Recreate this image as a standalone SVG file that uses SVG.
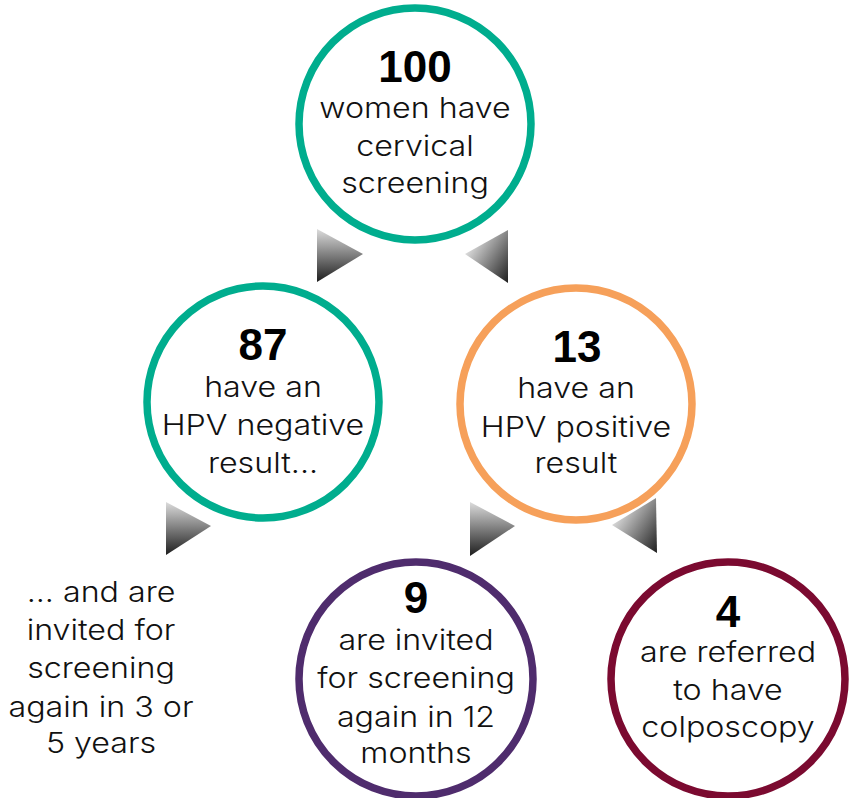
<svg xmlns="http://www.w3.org/2000/svg" width="851" height="798" viewBox="0 0 851 798">
<defs>
<linearGradient id="gR" x1="0" y1="0" x2="0" y2="1"><stop offset="0" stop-color="#dcdcdc"/><stop offset="1" stop-color="#1e1e1e"/></linearGradient>
<linearGradient id="gL" x1="0" y1="0.2" x2="1" y2="1"><stop offset="0" stop-color="#f6f6f6"/><stop offset="1" stop-color="#1e1e1e"/></linearGradient>
<style>
.c{fill:#fff;stroke-width:7.5}
.num{font-family:"Liberation Sans",Arial,sans-serif;font-weight:bold;font-size:44px;fill:#000;text-anchor:middle}
.t{font-family:Inter,"Liberation Sans",Arial,sans-serif;font-weight:300;font-size:28px;fill:#111;text-anchor:middle}
</style>
</defs>
<rect width="851" height="798" fill="#fff"/>
<g id="connectors">
<polygon points="317,229 363,254 317,282" fill="url(#gR)"/>
<polygon points="508,230 465,254 508,283" fill="url(#gL)"/>
<polygon points="166,502 211,526 166,555" fill="url(#gR)"/>
<polygon points="470,502 515,526 470,556" fill="url(#gR)"/>
<polygon points="656,498 612,525 657,553" fill="url(#gL)"/>
</g>
<g id="n100">
<circle class="c" cx="415" cy="124" r="116" stroke="#00ad8e"/>
<text class="num" x="415" y="82">100</text>
<g transform="translate(415,0) scale(1.15,1)">
<text class="t" x="0" y="118">women have</text>
<text class="t" x="0" y="156">cervical</text>
<text class="t" x="0" y="193">screening</text>
</g>
</g>
<g id="n87">
<circle class="c" cx="263" cy="402" r="116" stroke="#00ad8e"/>
<text class="num" x="263" y="360">87</text>
<g transform="translate(263,0) scale(1.15,1)">
<text class="t" x="0" y="397">have an</text>
<text class="t" x="0" y="435">HPV negative</text>
<text class="t" x="0" y="473">result...</text>
</g>
</g>
<g id="n13">
<circle class="c" cx="576" cy="404" r="116" stroke="#f6a05a"/>
<text class="num" x="577" y="362">13</text>
<g transform="translate(576,0) scale(1.15,1)">
<text class="t" x="0" y="398">have an</text>
<text class="t" x="0" y="437">HPV positive</text>
<text class="t" x="0" y="473">result</text>
</g>
</g>
<g id="nLeft">
<g transform="translate(101,0) scale(1.15,1)">
<text class="t" x="0" y="602">... and are</text>
<text class="t" x="0" y="640">invited for</text>
<text class="t" x="0" y="678">screening</text>
<text class="t" x="0" y="717">again in 3 or</text>
<text class="t" x="0" y="753">5 years</text>
</g>
</g>
<g id="n9">
<circle class="c" cx="416" cy="679" r="117" stroke="#4f2c6d"/>
<text class="num" x="416" y="613">9</text>
<g transform="translate(416,0) scale(1.15,1)">
<text class="t" x="0" y="650">are invited</text>
<text class="t" x="0" y="688">for screening</text>
<text class="t" x="0" y="727">again in 12</text>
<text class="t" x="0" y="763">months</text>
</g>
</g>
<g id="n4">
<circle class="c" cx="728" cy="679" r="117" stroke="#7b0a30"/>
<text class="num" x="728" y="627">4</text>
<g transform="translate(728,0) scale(1.15,1)">
<text class="t" x="0" y="662">are referred</text>
<text class="t" x="0" y="700">to have</text>
<text class="t" x="0" y="737">colposcopy</text>
</g>
</g>
</svg>
